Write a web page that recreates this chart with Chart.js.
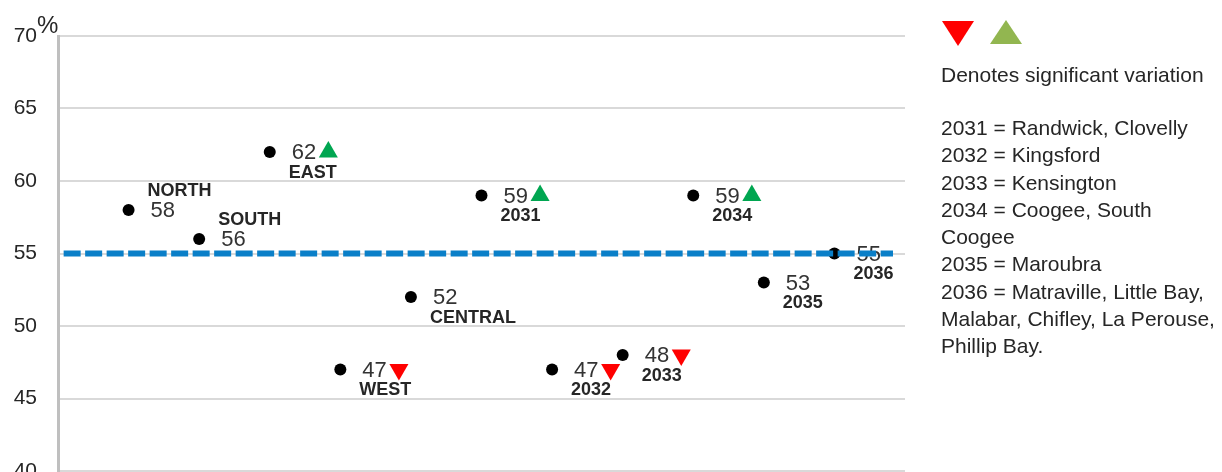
<!DOCTYPE html>
<html>
<head>
<meta charset="utf-8">
<title>Significant variation by area</title>
<script src="https://cdn.jsdelivr.net/npm/chart.js@4/dist/chart.umd.min.js"></script>
<style>
  html, body { margin: 0; padding: 0; background: #fff; }
  #wrap { position: relative; width: 1222px; height: 472px; overflow: hidden; }
  #chart { position: absolute; left: 0; top: 0; }
  .key { position: absolute; font-family: Arial, "Liberation Sans", sans-serif; font-size: 21px; color: #262626; white-space: nowrap; }
  .tri { position: absolute; width: 0; height: 0; }
  #triDown { left: 942px; top: 21px; border-left: 16.5px solid transparent; border-right: 16.5px solid transparent; border-top: 25px solid #ff0000; }
  #triUp { left: 990px; top: 20px; border-left: 16.5px solid transparent; border-right: 16.5px solid transparent; border-bottom: 24px solid #92b650; }
  #denotes { left: 941px; top: 61px; line-height: 27.3px; }
  #areas { left: 941px; top: 114px; line-height: 27.3px; }
</style>
</head>
<body>
<div id="wrap">
  <!-- canvas is taller than the window; the bottom tick label is cut off like the original -->
  <canvas id="chart" width="1222" height="492"></canvas>
  <div class="tri" id="triDown"></div>
  <div class="tri" id="triUp"></div>
  <div class="key" id="denotes">Denotes significant variation</div>
  <div class="key" id="areas">
    <div>2031 = Randwick, Clovelly</div>
    <div>2032 = Kingsford</div>
    <div>2033 = Kensington</div>
    <div>2034 = Coogee, South</div>
    <div>Coogee</div>
    <div>2035 = Maroubra</div>
    <div>2036 = Matraville, Little Bay,</div>
    <div>Malabar, Chifley, La Perouse,</div>
    <div>Phillip Bay.</div>
  </div>
</div>

<script>
//////////////////////
// data
//////////////////////

const categories = ['NORTH', 'SOUTH', 'EAST', 'WEST', 'CENTRAL', '2031', '2032', '2033', '2034', '2035', '2036'];
const values = [58, 56, 62, 47, 52, 59, 47, 48, 59, 53, 55];
// 'up' / 'down' = significant variation, '' = none
const variation = ['', '', 'up', 'down', '', 'up', 'down', 'down', 'up', '', ''];
// where the area name sits relative to the value
const nameSide = ['above', 'above', 'below', 'below', 'below', 'below', 'below', 'below', 'below', 'below', 'below'];
const averageValue = 55;
const yTicks = [40, 45, 50, 55, 60, 65, 70];

//////////////////////
// build datasets
//////////////////////

const fontFamily = 'Arial, "Liberation Sans", sans-serif';

const dotPoints = [];
const markerPoints = [];
const markerColors = [];
const markerRotation = [];
for (let i = 0; i < values.length; i++) {
  dotPoints.push({ x: i + 1, y: values[i] });
  if (variation[i] !== '') {
    markerPoints.push({ x: i + 1 + 0.83, y: values[i] });
    markerColors.push(variation[i] === 'up' ? '#00a651' : '#ff0000');
    markerRotation.push(variation[i] === 'up' ? 0 : 180);
  }
}

// value + area name beside every dot, drawn under the dashed line
const pointLabels = {
  id: 'pointLabels',
  beforeDatasetsDraw(chart) {
    const ctx = chart.ctx;
    const meta = chart.getDatasetMeta(1);
    ctx.save();
    ctx.textBaseline = 'middle';
    ctx.textAlign = 'left';
    meta.data.forEach((pt, i) => {
      ctx.font = '22px ' + fontFamily;
      ctx.fillStyle = '#333333';
      ctx.fillText(String(values[i]), pt.x + 22, pt.y + 1);
      ctx.font = 'bold 18px ' + fontFamily;
      ctx.fillStyle = '#262626';
      const dy = nameSide[i] === 'above' ? -18.5 : 21;
      ctx.fillText(categories[i], pt.x + 19, pt.y + dy);
    });
    ctx.restore();
  },
  afterDraw(chart) {
    // the % unit next to the top tick
    const ctx = chart.ctx;
    ctx.save();
    ctx.font = '24px ' + fontFamily;
    ctx.fillStyle = '#262626';
    ctx.textBaseline = 'alphabetic';
    ctx.textAlign = 'left';
    ctx.fillText('%', 37, 33);
    ctx.restore();
  }
};

const config = {
  data: {
    datasets: [
      {
        type: 'line',
        label: 'Average',
        data: [{ x: 0.08, y: averageValue }, { x: 11.83, y: averageValue }],
        borderColor: '#0a7fc8',
        borderWidth: 6,
        borderDash: [17, 4.5],
        pointRadius: 0,
        order: 0
      },
      {
        type: 'scatter',
        label: 'Result',
        data: dotPoints,
        pointRadius: 6,
        pointHoverRadius: 6,
        backgroundColor: '#000000',
        borderWidth: 0,
        order: 1
      },
      {
        type: 'scatter',
        label: 'Significant variation',
        data: markerPoints,
        pointStyle: 'triangle',
        pointRadius: 11,
        pointHoverRadius: 11,
        rotation: markerRotation,
        backgroundColor: markerColors,
        borderWidth: 0,
        order: 2
      }
    ]
  },
  options: {
    responsive: false,
    animation: false,
    events: [],
    layout: { padding: { top: 36, bottom: 21, left: 0, right: 317 } },
    plugins: {
      legend: { display: false },
      tooltip: { enabled: false },
      title: { display: false }
    },
    scales: {
      x: {
        type: 'linear',
        min: 0,
        max: 12,
        display: false
      },
      y: {
        type: 'linear',
        min: yTicks[0],
        max: yTicks[yTicks.length - 1],
        afterBuildTicks(scale) {
          scale.ticks = yTicks.map(v => ({ value: v }));
        },
        afterFit(scale) {
          scale.width = 58;
          scale.paddingTop = 0;
          scale.paddingBottom = 0;
        },
        ticks: {
          padding: 21,
          color: '#262626',
          font: { family: fontFamily, size: 21 }
        },
        grid: {
          color: '#d9d9d9',
          lineWidth: 2,
          drawTicks: false
        },
        border: { color: '#bfbfbf', width: 3 }
      }
    }
  },
  plugins: [pointLabels]
};

new Chart(document.getElementById('chart'), config);
</script>
</body>
</html>
